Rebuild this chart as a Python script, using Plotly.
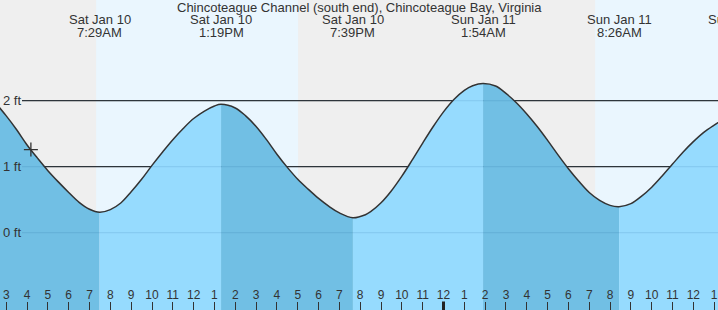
import pandas as pd
import plotly.graph_objects as go

title_text = "Chincoteague Channel (south end), Chincoteague Bay, Virginia"

# tide curve (feet)
curve_times = [
    "2026-01-10 02:30", "2026-01-10 03:00", "2026-01-10 03:30", "2026-01-10 04:00",
    "2026-01-10 04:30", "2026-01-10 05:00", "2026-01-10 05:30", "2026-01-10 06:00",
    "2026-01-10 06:30", "2026-01-10 07:00", "2026-01-10 07:29",
    "2026-01-10 08:00", "2026-01-10 08:30", "2026-01-10 09:00", "2026-01-10 09:30",
    "2026-01-10 10:00", "2026-01-10 10:30", "2026-01-10 11:00", "2026-01-10 11:30",
    "2026-01-10 12:00", "2026-01-10 12:30", "2026-01-10 13:00", "2026-01-10 13:19",
    "2026-01-10 14:00", "2026-01-10 14:30", "2026-01-10 15:00", "2026-01-10 15:30",
    "2026-01-10 16:00", "2026-01-10 16:30", "2026-01-10 17:00", "2026-01-10 17:30",
    "2026-01-10 18:00", "2026-01-10 18:30", "2026-01-10 19:00", "2026-01-10 19:39",
    "2026-01-10 20:15", "2026-01-10 20:30", "2026-01-10 21:00", "2026-01-10 21:30",
    "2026-01-10 22:00", "2026-01-10 22:30", "2026-01-10 23:00", "2026-01-10 23:30",
    "2026-01-11 00:00", "2026-01-11 00:30", "2026-01-11 01:00", "2026-01-11 01:24",
    "2026-01-11 01:54",
    "2026-01-11 02:30", "2026-01-11 03:00", "2026-01-11 03:30", "2026-01-11 04:00",
    "2026-01-11 04:30", "2026-01-11 05:00", "2026-01-11 05:30", "2026-01-11 06:00",
    "2026-01-11 06:30", "2026-01-11 07:00", "2026-01-11 07:30", "2026-01-11 08:00",
    "2026-01-11 08:26",
    "2026-01-11 09:00", "2026-01-11 09:30", "2026-01-11 10:00", "2026-01-11 10:30",
    "2026-01-11 11:00", "2026-01-11 11:30", "2026-01-11 12:00", "2026-01-11 12:30",
    "2026-01-11 13:00", "2026-01-11 13:30",
]
curve_heights = [
    1.96, 1.77, 1.56, 1.33,
    1.13, 0.94, 0.77, 0.61,
    0.46, 0.355, 0.31,
    0.35, 0.45, 0.62, 0.81,
    1.02, 1.22, 1.41, 1.58,
    1.73, 1.84, 1.92, 1.945,
    1.89, 1.77, 1.61, 1.41,
    1.19, 0.99, 0.81, 0.66,
    0.52, 0.40, 0.30, 0.227,
    0.273, 0.318, 0.453, 0.636,
    0.857, 1.103, 1.358, 1.605,
    1.831, 2.019, 2.158, 2.227,
    2.26,
    2.222, 2.11, 1.97, 1.80,
    1.61, 1.40, 1.18, 0.97,
    0.78, 0.61, 0.49, 0.414,
    0.394,
    0.44, 0.55, 0.69, 0.86,
    1.04, 1.22, 1.38, 1.52,
    1.63, 1.73,
]

# high / low tide labels
extreme_times = ["2026-01-10 07:29", "2026-01-10 13:19", "2026-01-10 19:39",
                 "2026-01-11 01:54", "2026-01-11 08:26", "2026-01-11 14:16"]
extreme_days = ["Sat Jan 10", "Sat Jan 10", "Sat Jan 10", "Sun Jan 11", "Sun Jan 11", "Sun Jan 11"]
extreme_clock = ["7:29AM", "1:19PM", "7:39PM", "1:54AM", "8:26AM", "2:16PM"]

# daylight periods
daylight_starts = ["2026-01-10 07:19", "2026-01-11 07:17"]
daylight_ends = ["2026-01-10 17:01", "2026-01-11 17:02"]

# current time marker
now_time = ["2026-01-10 04:11"]
now_height = [1.26]

day_break = "2026-01-11 00:00"

hour_labels = ["3", "4", "5", "6", "7", "8", "9", "10", "11", "12",
               "1", "2", "3", "4", "5", "6", "7", "8", "9", "10", "11",
               "12",
               "1", "2", "3", "4", "5", "6", "7", "8", "9", "10", "11", "12",
               "1"]
hour_ticks = list(pd.date_range("2026-01-10 03:00", periods=len(hour_labels), freq="h"))

level_values = [0, 1, 2]
level_labels = ["0 ft", "1 ft", "2 ft"]
line_levels = [1, 2]

x_start = pd.Timestamp("2026-01-10 02:42")
x_end = pd.Timestamp("2026-01-11 13:11")
y_range = [-1.171, 3.526]

W, H = 718, 310
TXT = "#333333"
FONT = "Liberation Sans, Arial, sans-serif"
NIGHT = "#efefef"
DAY = "#eaf6fe"
RISE = "#96dbfe"
FALL = "#71bfe4"

fig = go.Figure()

# filled segments: split at the highs and lows
ct = [pd.Timestamp(t) for t in curve_times]
ext_ts = [pd.Timestamp(t) for t in extreme_times]
cut_idx = [0] + [ct.index(t) for t in ext_ts if t in ct] + [len(ct) - 1]
for k in range(len(cut_idx) - 1):
    a, b = cut_idx[k], cut_idx[k + 1]
    seg_t = ct[a:b + 1]
    seg_h = curve_heights[a:b + 1]
    falling = seg_h[-1] < seg_h[0]
    fig.add_trace(go.Scatter(x=[seg_t[0], seg_t[-1]], y=[y_range[0] - 1] * 2, mode="lines",
                             line=dict(width=0), hoverinfo="skip", showlegend=False))
    fig.add_trace(go.Scatter(x=seg_t, y=seg_h, mode="lines", fill="tonexty",
                             fillcolor=FALL if falling else RISE,
                             line=dict(width=0, shape="spline"), hoverinfo="skip", showlegend=False))

# outline
fig.add_trace(go.Scatter(x=ct, y=curve_heights, mode="lines",
                         line=dict(color="#333333", width=1.5, shape="spline"),
                         hoverinfo="skip", showlegend=False))

# now marker
fig.add_trace(go.Scatter(x=now_time, y=now_height, mode="markers",
                         marker=dict(symbol="cross-thin", size=10,
                                     line=dict(color="#333333", width=1.3)),
                         hoverinfo="skip", showlegend=False))

shapes = []
for s, e in zip(daylight_starts, daylight_ends):
    shapes.append(dict(type="rect", xref="x", yref="paper", x0=s, x1=e, y0=0, y1=1,
                       fillcolor=DAY, line=dict(width=0), layer="below"))
for lv in line_levels:
    shapes.append(dict(type="line", xref="paper", yref="y", x0=22 / W, x1=1, y0=lv, y1=lv,
                       line=dict(color="#333333", width=1.2), layer="below"))
for lv in level_values:
    shapes.append(dict(type="line", xref="paper", yref="y", x0=22 / W, x1=1, y0=lv, y1=lv,
                       line=dict(color="rgba(0,70,130,0.13)", width=1), layer="above"))
shapes.append(dict(type="line", xref="x", yref="paper", x0=day_break, x1=day_break,
                   y0=0, y1=8.5 / H, line=dict(color="#222222", width=3), layer="above"))

span = (x_end - x_start).total_seconds()
annotations = [dict(text=title_text, xref="paper", yref="paper", x=0.5, y=1 - 8 / H,
                    xanchor="center", yanchor="middle", showarrow=False,
                    font=dict(size=13, color=TXT, family=FONT))]
for t, d, c in zip(ext_ts, extreme_days, extreme_clock):
    px = (t - x_start).total_seconds() / span
    annotations.append(dict(text=d, xref="paper", yref="paper", x=px, y=1 - 19.5 / H,
                            xanchor="center", yanchor="middle", showarrow=False,
                            font=dict(size=13, color=TXT, family=FONT)))
    annotations.append(dict(text=c, xref="paper", yref="paper", x=px, y=1 - 32 / H,
                            xanchor="center", yanchor="middle", showarrow=False,
                            font=dict(size=13, color=TXT, family=FONT)))

fig.update_layout(
    width=W, height=H, margin=dict(l=0, r=0, t=0, b=0, pad=0),
    paper_bgcolor="white", plot_bgcolor=NIGHT,
    font=dict(family=FONT, color=TXT),
    shapes=shapes, annotations=annotations, showlegend=False,
    xaxis=dict(type="date", range=[x_start, x_end], showgrid=False, zeroline=False,
               showline=False, ticks="inside", ticklen=8, tickwidth=1, tickcolor="#333333",
               tickvals=hour_ticks, ticktext=hour_labels, ticklabelposition="inside",
               ticklabeloverflow="allow", tickfont=dict(size=12, color=TXT, family=FONT)),
    yaxis=dict(range=y_range, showgrid=False, zeroline=False, showline=False, ticks="",
               tickvals=level_values, ticktext=level_labels, ticklabelposition="inside",
               ticklabeloverflow="allow", tickfont=dict(size=13, color=TXT, family=FONT)),
)

fig.write_html("out.html")
